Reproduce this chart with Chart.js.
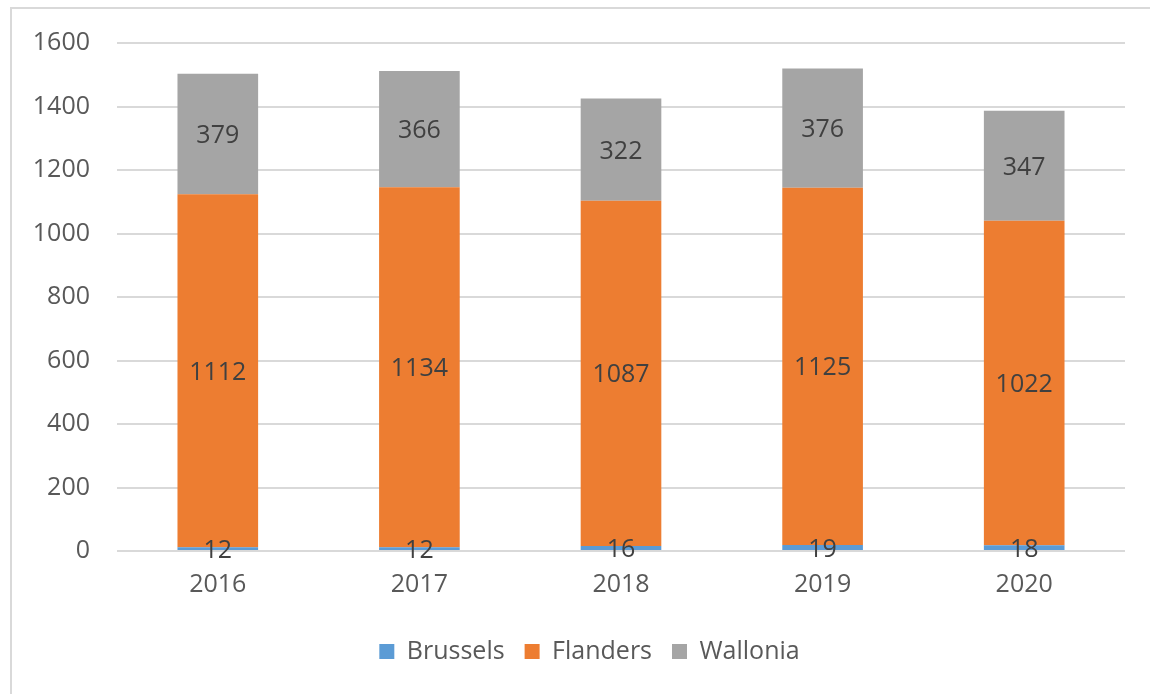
<!DOCTYPE html>
<html>
<head>
<meta charset="utf-8">
<script src="https://cdn.jsdelivr.net/npm/chart.js@4"></script>
<style>
  html, body { margin: 0; padding: 0; background: #fff; overflow: hidden; }
  #wrap { position: relative; width: 1150px; height: 694px; }
  #frame { position: absolute; left: 10px; top: 7px; width: 2000px; height: 2000px;
           border: 2px solid #d9d9d9; box-sizing: border-box; }
  canvas { position: absolute; left: 0; top: 0; }
</style>
</head>
<body>
<div id="wrap">
  <div id="frame"></div>
  <canvas id="regionChart" width="1150" height="694"></canvas>
</div>
<script>
const years = ["2016", "2017", "2018", "2019", "2020"];
const brussels = [12, 12, 16, 19, 18];
const flanders = [1112, 1134, 1087, 1125, 1022];
const wallonia = [379, 366, 322, 376, 347];
const yTicks = [0, 200, 400, 600, 800, 1000, 1200, 1400, 1600];

const FONT = "'Open Sans', sans-serif";

// draws the value in the middle of each bar segment
const segmentLabels = {
    id: "segmentLabels",
    afterDatasetsDraw(chart) {
        const ctx = chart.ctx;
        ctx.save();
        ctx.font = "25px " + FONT;
        ctx.fillStyle = "#404040";
        ctx.textAlign = "center";
        ctx.textBaseline = "middle";
        chart.data.datasets.forEach((ds, i) => {
            const meta = chart.getDatasetMeta(i);
            meta.data.forEach((bar, j) => {
                const p = bar.getProps(["x", "y", "base"], true);
                ctx.fillText(ds.data[j], p.x, (p.y + p.base) / 2 + 2);
            });
        });
        ctx.restore();
    }
};

// legend in the original is centred on the whole frame, not the plot
const legendShift = {
    id: "legendShift",
    afterLayout(chart) {
        chart.legend.left += 27;
        chart.legend.right += 27;
    }
};

let ctx = document.getElementById("regionChart").getContext("2d");
let regionChart = new Chart(ctx, {
    type: "bar",
    data: {
        labels: years,
        datasets: [
            { label: "Brussels", data: brussels, backgroundColor: "#5B9BD5" },
            { label: "Flanders", data: flanders, backgroundColor: "#ED7D31" },
            { label: "Wallonia", data: wallonia, backgroundColor: "#A5A5A5" }
        ]
    },
    options: {
        responsive: false,
        animation: false,
        devicePixelRatio: 1,
        categoryPercentage: 1,
        barPercentage: 0.4,
        layout: { padding: { left: 0, right: 25, top: 43, bottom: 20 } },
        plugins: {
            tooltip: { enabled: false },
            legend: {
                position: "bottom",
                labels: {
                    boxWidth: 15,
                    boxHeight: 15,
                    padding: 20,
                    color: "#595959",
                    font: { family: FONT, size: 25 }
                }
            }
        },
        scales: {
            x: {
                stacked: true,
                grid: { display: false, drawTicks: false },
                border: { display: false },
                ticks: { color: "#595959", padding: 19, font: { family: FONT, size: 25 } },
                afterFit: (s) => { s.height = 68; }
            },
            y: {
                stacked: true,
                min: 0,
                max: 1600,
                afterBuildTicks: (s) => { s.ticks = yTicks.map(v => ({ value: v })); },
                grid: { color: "#d9d9d9", lineWidth: 2, drawTicks: false },
                border: { display: false },
                ticks: {
                    color: "#595959",
                    padding: 27,
                    font: { family: FONT, size: 25 },
                    callback: (v) => String(v)
                },
                afterFit: (s) => { s.width = 117; }
            }
        }
    },
    plugins: [segmentLabels, legendShift]
});
</script>
</body>
</html>
